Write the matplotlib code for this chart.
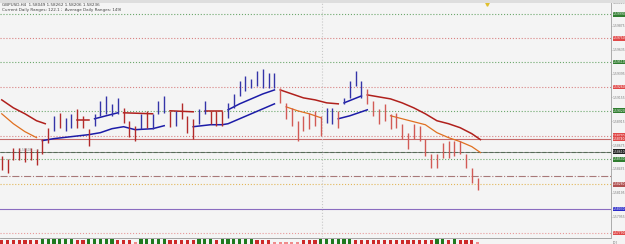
import matplotlib
matplotlib.use("Agg")
import matplotlib.pyplot as plt
from matplotlib.patches import Rectangle

# GBPUSD H4 bars (oldest first)
highs = [1.5857, 1.5854, 1.5865, 1.5865, 1.5865, 1.5865, 1.5864, 1.5874, 1.5885, 1.5897,
         1.5900, 1.5895, 1.5899, 1.5904, 1.5897, 1.5884, 1.5899, 1.5912, 1.5917, 1.5909,
         1.5915, 1.5905, 1.5892, 1.5887, 1.5899, 1.5902, 1.5899, 1.5912, 1.5917, 1.5902,
         1.5902, 1.5910, 1.5897, 1.5894, 1.5904, 1.5912, 1.5902, 1.5902, 1.5902, 1.5910,
         1.5919, 1.5932, 1.5937, 1.5934, 1.5942, 1.5944, 1.5940, 1.5940, 1.5925, 1.5910,
         1.5905, 1.5892, 1.5897, 1.5900, 1.5902, 1.5897, 1.5905, 1.5905, 1.5902, 1.5915,
         1.5932, 1.5942, 1.5932, 1.5924, 1.5912, 1.5904, 1.5909, 1.5899, 1.5900, 1.5889,
         1.5880, 1.5889, 1.5887, 1.5874, 1.5859, 1.5859, 1.5870, 1.5872, 1.5872, 1.5872,
         1.5859, 1.5844, 1.5834]
lows = [1.5842, 1.5839, 1.5852, 1.5852, 1.5850, 1.5852, 1.5847, 1.5859, 1.5870, 1.5882,
        1.5885, 1.5882, 1.5885, 1.5885, 1.5885, 1.5867, 1.5887, 1.5897, 1.5899, 1.5897,
        1.5899, 1.5890, 1.5876, 1.5872, 1.5884, 1.5885, 1.5884, 1.5899, 1.5900, 1.5886,
        1.5887, 1.5894, 1.5880, 1.5874, 1.5889, 1.5899, 1.5889, 1.5887, 1.5887, 1.5895,
        1.5905, 1.5917, 1.5922, 1.5925, 1.5927, 1.5925, 1.5925, 1.5925, 1.5910, 1.5894,
        1.5887, 1.5872, 1.5882, 1.5884, 1.5887, 1.5877, 1.5890, 1.5889, 1.5885, 1.5909,
        1.5915, 1.5927, 1.5915, 1.5909, 1.5897, 1.5889, 1.5892, 1.5884, 1.5885, 1.5874,
        1.5864, 1.5874, 1.5872, 1.5857, 1.5844, 1.5844, 1.5855, 1.5855, 1.5857, 1.5859,
        1.5844, 1.5829, 1.5822]
# b = bar above trend line (blue), r = below (red)
bar_dirs = ("rrrrrrrrr" + "brbbrrr" + "bbbbb" + "rrr" + "brbbb" + "rbrrr" + "bb" + "rrr"
            + "bbbbbbbbb" + "rrrrrrrr" + "bb" + "r" + "bbbb" + "rrrrrrrrrrrrrrrrrrrr")

# trend bands, drawn in pieces (bar index, price)
red_upper_x = [[0, 2, 4, 6, 7.5], [13, 15], [21, 26], [29, 33], [35, 38],
               [48, 50, 52, 54, 56, 58],
               [63, 65, 67, 69, 71, 73, 75, 77, 79, 81, 82.5]]
red_upper_y = [[1.5913, 1.5905, 1.5899, 1.5892, 1.5889], [1.5893, 1.5893], [1.5900, 1.5899],
               [1.5902, 1.5901], [1.5902, 1.5902],
               [1.5923, 1.5919, 1.5915, 1.5913, 1.5910, 1.5909],
               [1.5918, 1.5916, 1.5914, 1.5910, 1.5905, 1.5899, 1.5892, 1.5889, 1.5885, 1.5879, 1.5873]]
orange_x = [[0, 2, 4, 6], [49, 51, 53, 55], [67, 69, 71, 73, 75, 77, 79, 81, 82.5]]
orange_y = [[1.5899, 1.5889, 1.5881, 1.5875], [1.5906, 1.5902, 1.5899, 1.5895],
            [1.5897, 1.5894, 1.5891, 1.5888, 1.5880, 1.5875, 1.5871, 1.5866, 1.5860]]
blue_lower_x = [[7, 9, 12, 15, 17, 19, 21, 23, 26, 28],
                [33, 36, 38, 39, 41, 43, 45, 47], [58, 60, 62, 63]]
blue_lower_y = [[1.5872, 1.5874, 1.5876, 1.5878, 1.5880, 1.5884, 1.5886, 1.5883, 1.5884, 1.5887],
                [1.5886, 1.5888, 1.5888, 1.5889, 1.5894, 1.5899, 1.5904, 1.5909],
                [1.5894, 1.5897, 1.5901, 1.5903]]
blue_upper_x = [[16, 20], [39, 41, 43, 45, 47], [59, 62]]
blue_upper_y = [[1.5894, 1.5900], [1.5903, 1.5909, 1.5914, 1.5919, 1.5923], [1.5910, 1.5917]]

# horizontal levels: price, colour, style, label box colour
levels = [1.5999, 1.5975, 1.5951, 1.5926, 1.5902, 1.5877, 1.5874, 1.5861, 1.5853,
          1.5836, 1.5828, 1.5803, 1.5779]
level_colors = ["#6da86d", "#d98282", "#6da86d", "#d98282", "#6da86d", "#d98282", "#c46a6a",
                "#5f9f5f", "#6da86d", "#a87878", "#e2b75a", "#8a6cc0", "#e79a9a"]
level_styles = [":", ":", ":", ":", ":", ":", "-", "--", ":", "-.", ":", "-", ":"]
box_colors = ["#2f7d2f", "#e04848", "#2f7d2f", "#e04848", "#2f7d2f", "#e04848", "#e04848",
              "#202020", "#2f7d2f", None, "#b05050", "#2a2ac8", "#e04848"]

# small histogram under the chart
hist_vals = [-2, -2, -2, -2, -2, -2, -2, 3, 3, 3, 3, 3, 3, -2, -2, 3, 3, 3, 3, 3,
             -2, -2, -2, -1, 3, 3, 3, 3, 3, -2, -2, -2, -2, -2, 3, 3, 3, -2, 3, 3,
             3, 3, 3, 3, -2, -2, -2, -1, -1, -1, -1, -1, -2, -2, -2, 3, 3, 3, 3, 3,
             3, -2, -2, -2, -2, -2, -2, -2, -2, -2, -2, -2, -2, -2, -2, 3, 3, -2, 3, -2,
             -2, -2, -1]

axis_ticks = [1.60115, 1.59875, 1.59635, 1.59395, 1.59155, 1.58915, 1.58675,
              1.58435, 1.58195, 1.57955]

W, H = 625, 244
fig = plt.figure(figsize=(W / 100, H / 100), dpi=100)
fig.patch.set_facecolor("#f4f4f4")

ax = fig.add_axes([0, 7 / H, 611 / W, 235 / H])
ax.set_facecolor("#f4f4f4")
ax.set_xlim(-0.3, 105)
ax.set_ylim(1.5775, 1.6010)

for lv, c, ls in zip(levels, level_colors, level_styles):
    ax.axhline(lv, color=c, lw=0.8, ls=ls)
ax.axhline(1.5861, color="#555555", lw=0.5)
ax.axvline(55.2, color="#c8c8c8", lw=0.8, ls=":")

for xs, ys in zip(red_upper_x, red_upper_y):
    ax.plot(xs, ys, color="#b0201c", lw=1.1)
for xs, ys in zip(orange_x, orange_y):
    ax.plot(xs, ys, color="#e07020", lw=0.9)
for xs, ys in zip(blue_lower_x, blue_lower_y):
    ax.plot(xs, ys, color="#1c1ca8", lw=1.1)
for xs, ys in zip(blue_upper_x, blue_upper_y):
    ax.plot(xs, ys, color="#1c1ca8", lw=1.1)

for i, (h, l, d) in enumerate(zip(highs, lows, bar_dirs)):
    if d == "b":
        col = "#3434a8"
    elif i >= 48:
        col = "#d25a55"
    else:
        col = "#b32a2a"
    ax.vlines(i, l, h, color=col, lw=1.0)

# right price scale
ax.yaxis.tick_right()
ax.set_yticks(axis_ticks)
ax.set_yticklabels(["%.5f" % t for t in axis_ticks])
ax.tick_params(axis="y", labelsize=2.2, labelcolor="#777777", color="#999999",
               length=1, width=0.4, pad=0.5)
ax.set_xticks([])
for s in ["top", "left", "bottom"]:
    ax.spines[s].set_visible(False)
ax.spines["right"].set_color("#a0a0a0")
ax.spines["right"].set_linewidth(0.6)

ytr = ax.get_yaxis_transform()
for lv, bc in zip(levels, box_colors):
    if bc is None:
        continue
    ax.text(1.003, lv, "%.5f" % lv, transform=ytr, fontsize=2.2, color="white",
            va="center", ha="left", clip_on=False,
            bbox=dict(boxstyle="square,pad=0.1", fc=bc, ec="none"))

# header text
ax.text(0.003, 0.995, "GBPUSD,H4  1.58049 1.58262 1.58206 1.58236", transform=ax.transAxes,
        fontsize=3.0, color="#444444", va="top", ha="left")
ax.text(0.003, 0.975, "Current Daily Ranges: 122.1 ;  Average Daily Ranges: 149l",
        transform=ax.transAxes, fontsize=3.0, color="#444444", va="top", ha="left")
ax.text(3, 1.58625, "1.58606 ... o", fontsize=2.2, color="#888888", va="center")
ax.plot([486.5 / 611 * 105.3 - 0.3], [1.6009], marker="v", ms=2.5, color="#e0c030",
        clip_on=False)

# top band
fig.add_artist(Rectangle((0, 1 - 3 / H), 1, 3 / H, transform=fig.transFigure,
                         fc="#dedede", ec="none"))

# histogram strip
hx = fig.add_axes([0, 0, 611 / W, 6 / H])
hx.set_facecolor("#f4f4f4")
hx.set_xlim(-0.3, 105)
hx.set_ylim(0, 5)
hcols = ["#1f7a1f" if v > 0 else ("#f08a8a" if v == -1 else "#cc2a2a") for v in hist_vals]
hx.bar(range(len(hist_vals)), [abs(v) + 1 for v in hist_vals], width=0.55, color=hcols)
hx.axis("off")
fig.add_artist(plt.Line2D([0, 611 / W], [6.5 / H, 6.5 / H], transform=fig.transFigure,
                          color="#9a9a9a", lw=0.6))
fig.text(613 / W, 1 / H, "[0]", fontsize=2.4, color="#777777")

fig.savefig("out.png", dpi=100, facecolor=fig.get_facecolor())
